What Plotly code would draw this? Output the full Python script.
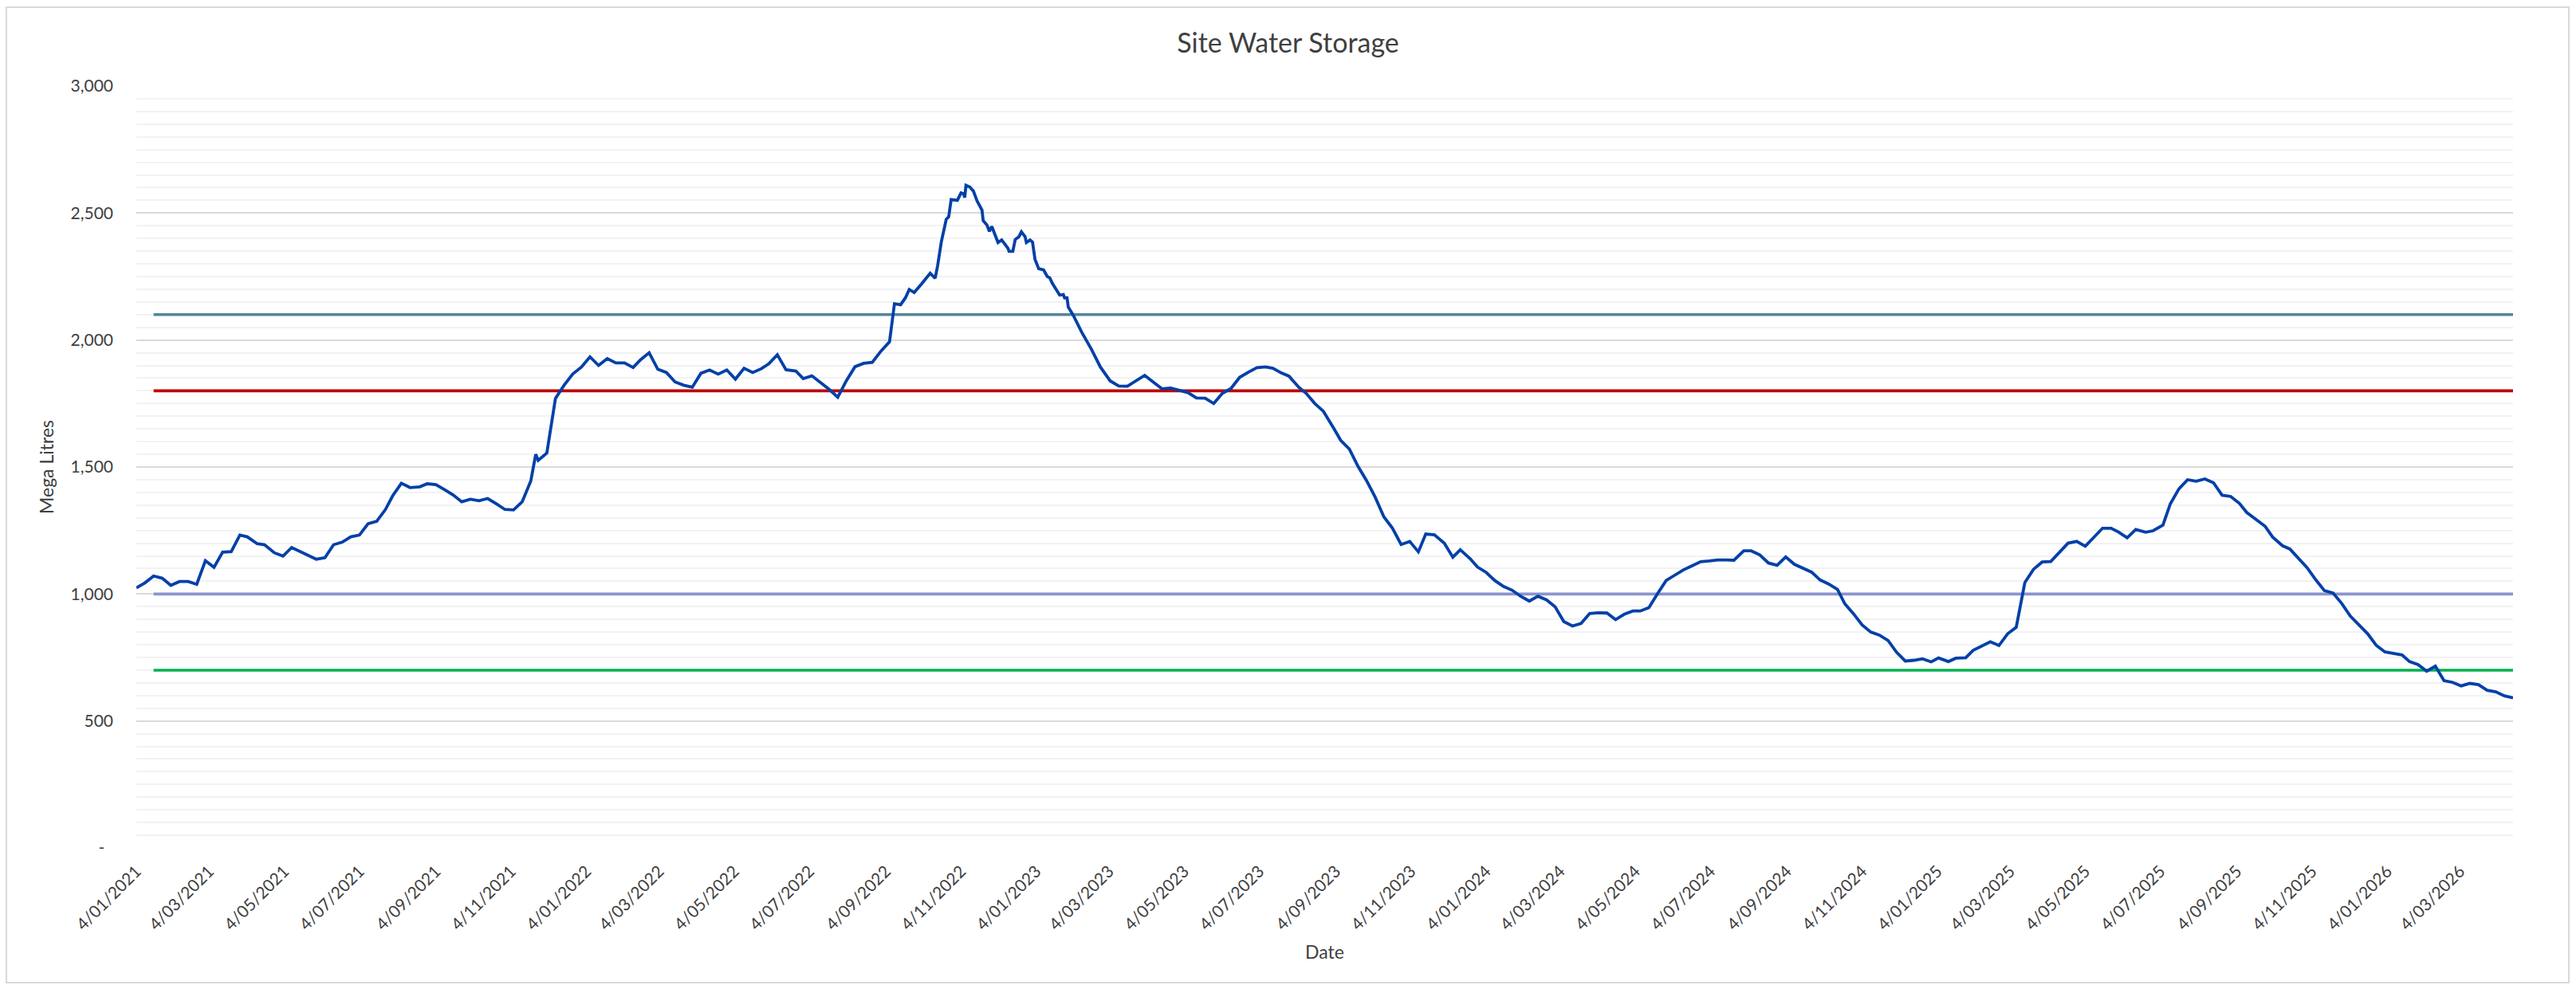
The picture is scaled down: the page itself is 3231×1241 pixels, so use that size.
import pandas as pd
import plotly.graph_objects as go

# ---------------- data ----------------
start_date = "2021-01-04"

# days since start_date for each storage reading
day_offset = [
    0, 7, 14, 21, 28, 35, 42, 49, 56, 63, 70, 77, 84, 90, 98, 104, 112, 119, 126, 132,
    139, 146, 153, 160, 167, 174, 181, 188, 195, 202, 208, 215, 222, 230, 236, 243, 250,
    257, 264, 271, 278, 285, 292, 299, 306, 313, 320,
    324, 326, 333, 340, 347, 354, 361, 368, 375, 382, 389, 396, 403, 409, 416, 423, 430,
    437, 444, 451, 458, 465, 472, 479, 486, 493, 500, 507, 513, 520, 527, 535, 541, 548,
    555, 562, 569, 576, 583, 590, 597, 604, 611,
    615, 620, 624, 627, 631, 637,
    644, 648, 650, 653, 657, 659, 661, 666, 669, 671, 672, 673, 676, 679, 682, 686, 687,
    690, 692, 694, 696, 699, 702, 707, 708, 711, 713, 716, 718, 721, 722, 725, 727, 729,
    732, 736, 739, 741, 743, 746, 749, 752, 753, 755, 756, 760, 767, 775, 782, 790, 797,
    804, 811, 818, 825, 832, 839, 846, 853, 860, 867, 874, 881, 888, 895, 902, 909, 916,
    922, 929, 935, 943, 949, 956, 963,
    971, 977, 984, 991, 998, 1005, 1012, 1019, 1026, 1033, 1040, 1046, 1053, 1061, 1068,
    1074, 1082, 1088, 1095, 1102, 1109, 1116, 1123, 1130, 1137, 1144, 1151, 1158, 1165,
    1172, 1179, 1186, 1193, 1200, 1207, 1214, 1220, 1227, 1234, 1241, 1248, 1255, 1262,
    1269, 1276, 1283, 1290,
    1296, 1304, 1310, 1317, 1324, 1331, 1338, 1345, 1352, 1359, 1366, 1373, 1380, 1386,
    1393, 1400, 1407, 1414, 1421, 1428, 1435, 1442, 1449, 1456, 1462, 1470, 1476, 1484,
    1490, 1497, 1504, 1511, 1518, 1525, 1532, 1539, 1546, 1553, 1560, 1567, 1574, 1581,
    1588, 1595, 1602, 1608, 1615,
    1622, 1630, 1636, 1644, 1650, 1657, 1664, 1671, 1678, 1685, 1692, 1699, 1706, 1712,
    1719, 1727, 1733, 1741, 1747, 1754, 1761, 1768, 1775, 1782, 1789, 1796, 1803, 1810,
    1817, 1824, 1830, 1838, 1844, 1851, 1858, 1865, 1872, 1879, 1886, 1893, 1900, 1907,
    1914, 1921, 1928,
]

# site water storage, mega litres
storage_ml = [
    1024, 1044, 1071, 1062, 1034, 1049, 1049, 1038, 1131, 1105, 1165, 1167, 1232, 1225,
    1198, 1194, 1162, 1149, 1183, 1170, 1154, 1137, 1143, 1194, 1204, 1225, 1232, 1277,
    1286, 1332, 1387, 1436, 1419, 1422, 1434, 1431, 1411, 1390, 1363, 1373, 1367, 1376,
    1355, 1333, 1331, 1363, 1445,
    1550, 1526, 1555, 1770, 1822, 1866, 1893, 1934, 1900, 1927, 1910, 1910, 1892, 1922,
    1950, 1885, 1872, 1835, 1822, 1814, 1869, 1882, 1866, 1882, 1846, 1889, 1872, 1887,
    1906, 1942, 1883, 1878, 1848, 1859, 1833, 1806, 1775, 1840, 1895, 1908, 1912, 1956,
    1993,
    2143, 2139, 2167, 2199, 2187, 2221,
    2263, 2243, 2292, 2386, 2475, 2485, 2553, 2550, 2579, 2576,
    2561, 2609, 2603, 2587, 2548, 2512, 2470, 2453, 2428, 2447,
    2423, 2384, 2394, 2362, 2349, 2349, 2396, 2407, 2426, 2407,
    2384, 2394, 2386, 2318, 2281, 2276, 2250, 2245, 2224, 2203,
    2177, 2179, 2166, 2166, 2130, 2098, 2030, 1962, 1894, 1839,
    1819, 1818, 1839, 1861, 1834, 1808, 1811, 1802, 1793, 1772,
    1771, 1750, 1790, 1809, 1853, 1873, 1891, 1894, 1889, 1870,
    1858, 1814, 1790, 1750, 1719,
    1655, 1605, 1571, 1503, 1446, 1381, 1304, 1259, 1195, 1207,
    1166, 1236, 1233, 1200, 1145, 1174, 1139, 1106, 1085, 1053,
    1030, 1015, 991, 972, 991, 977, 949, 891, 874, 884,
    923, 926, 925, 899, 920, 933, 933, 946, 1001, 1053,
    1074, 1095, 1111, 1127, 1130, 1134, 1134,
    1133, 1170, 1170, 1154, 1122, 1113, 1146, 1117, 1103, 1086,
    1055, 1039, 1018, 961, 922, 878, 850, 838, 817, 770,
    736, 739, 745, 733, 748, 734, 747, 749, 778, 794,
    812, 797, 843, 869, 1045, 1097, 1126, 1128, 1162, 1200,
    1207, 1188, 1223, 1259, 1259, 1244, 1221,
    1254, 1243, 1249, 1271, 1355, 1414, 1450, 1444, 1453, 1438,
    1389, 1384, 1357, 1321, 1294, 1266, 1224, 1190, 1177, 1142,
    1103, 1056, 1013, 1004, 963, 913, 879, 844, 798, 772,
    767, 760, 734, 722, 696, 716, 659, 652, 638, 648,
    643, 621, 615, 599, 591,
]

# threshold levels (mega litres) and the day they start
threshold_names = ["Level 2100", "Level 1800", "Level 1000", "Level 700"]
threshold_values = [2100, 1800, 1000, 700]
threshold_colors = ["#528599", "#C00000", "#8A94CE", "#00B050"]
threshold_start_day = 14

y_tick_values = [0, 500, 1000, 1500, 2000, 2500, 3000]
y_tick_labels = ["-\u00a0\u00a0", "500", "1,000", "1,500", "2,000", "2,500", "3,000"]

# ---------------- figure ----------------
t0 = pd.Timestamp(start_date)
dates = t0 + pd.to_timedelta(day_offset, unit="D")
end_date = dates[-1]
ref_start = t0 + pd.Timedelta(days=threshold_start_day)

x_ticks = pd.date_range(start=t0, end=end_date, freq=pd.DateOffset(months=2))
x_tick_text = [f"{d.day}/{d.month:02d}/{d.year}" for d in x_ticks]

FONT = "Lato, 'Open Sans', sans-serif"
TXT = "#404040"

fig = go.Figure()
for name, val, col in zip(threshold_names, threshold_values, threshold_colors):
    fig.add_trace(go.Scatter(
        x=[ref_start, end_date], y=[val, val], mode="lines", name=name,
        line=dict(color=col, width=3.6), hoverinfo="skip", showlegend=False,
    ))

fig.add_trace(go.Scatter(
    x=dates, y=storage_ml, mode="lines", name="Storage",
    line=dict(color="#0340A8", width=3.8), showlegend=False,
))

fig.update_layout(
    width=3231, height=1241,
    margin=dict(l=171, r=79, t=108, b=177, autoexpand=False),
    paper_bgcolor="white", plot_bgcolor="white",
    font=dict(family=FONT, color=TXT),
    title=dict(text="Site Water Storage", x=0.5, xref="container", xanchor="center",
               y=1 - 54 / 1241, yref="container", yanchor="middle",
               font=dict(family=FONT, size=34, color=TXT)),
    showlegend=False,
    xaxis=dict(
        type="date", range=[t0, end_date],
        tickmode="array", tickvals=list(x_ticks), ticktext=x_tick_text,
        tickangle=-45, tickfont=dict(family=FONT, size=21, color=TXT),
        showgrid=False, zeroline=False, showline=False, ticks="",
        ticklabelstandoff=12,
        automargin=False,
        title=dict(text="Date", font=dict(family=FONT, size=23, color=TXT), standoff=16),
    ),
    yaxis=dict(
        range=[0, 3000], tickmode="array", tickvals=y_tick_values, ticktext=y_tick_labels,
        tickfont=dict(family=FONT, size=21, color=TXT),
        showgrid=True, gridcolor="#D9D9D9", gridwidth=1.5,
        zeroline=False, showline=False, ticks="", ticklabelstandoff=28,
        minor=dict(tickmode="linear", tick0=0, dtick=50, showgrid=True,
                   gridcolor="#F2F2F2", gridwidth=1.5, ticks=""),
        automargin=False,
        title=dict(text="Mega Litres", font=dict(family=FONT, size=23, color=TXT), standoff=14),
    ),
    shapes=[dict(type="rect", xref="paper", yref="paper",
                 x0=(8 - 171) / 2981, x1=(3222 - 171) / 2981,
                 y0=(1064 - 1233) / 956, y1=(1064 - 9) / 956,
                 line=dict(color="#D9D9D9", width=2), fillcolor="rgba(0,0,0,0)",
                 layer="below")],
)

fig.write_html("out.html", config={"displayModeBar": False},
               post_script="document.body.style.margin='0';")
